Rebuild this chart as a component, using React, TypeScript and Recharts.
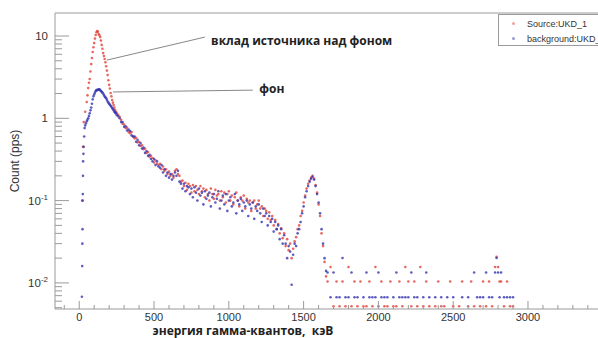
import React from "react";
import {
  ScatterChart,
  Scatter,
  XAxis,
  YAxis,
  ReferenceLine,
  ReferenceDot,
  Legend,
} from "recharts";

const sourceName = "Source:UKD_1";
const backgroundName = "background:UKD_1";

// [energy keV, count rate pps]
const sourcePeak: [number, number][] = [
  [20, 0.1], [25, 0.45], [30, 0.9], [40, 1.2], [50, 1.58], [55, 1.9], [60, 2.33], [65, 2.7],
  [70, 3.0], [75, 3.7], [80, 4.56], [85, 5.4], [90, 6.4], [95, 7.3], [100, 8.2], [105, 9.3],
  [110, 10.3], [115, 11.1], [120, 11.5], [125, 11.3], [130, 10.6], [135, 10.2], [140, 9.7],
  [145, 8.8], [150, 7.8], [155, 7.0], [160, 6.2], [165, 5.7], [170, 5.25], [175, 4.8],
  [180, 4.3], [185, 3.8], [190, 3.35], [195, 2.9], [200, 2.55], [205, 2.3], [210, 2.03],
  [215, 1.85], [220, 1.67], [225, 1.55], [230, 1.45], [235, 1.35], [240, 1.26], [245, 1.2],
  [250, 1.16],
];

const sourceContinuum: [number, number][] = [
  [260, 1.1], [270, 1.04], [280, 0.96], [290, 0.86], [300, 0.84], [310, 0.76], [320, 0.77],
  [330, 0.68], [340, 0.66], [350, 0.68], [360, 0.6], [370, 0.57], [380, 0.58], [390, 0.51],
  [400, 0.52], [410, 0.46], [420, 0.47], [430, 0.42], [440, 0.43], [450, 0.38], [460, 0.39],
  [470, 0.34], [480, 0.35], [490, 0.33], [500, 0.29], [510, 0.31], [520, 0.28], [530, 0.27],
  [540, 0.28], [550, 0.24], [560, 0.26], [570, 0.23], [580, 0.24], [590, 0.21], [600, 0.225],
  [610, 0.2], [620, 0.21], [630, 0.19], [640, 0.23], [650, 0.24], [660, 0.21], [670, 0.2],
  [680, 0.17], [690, 0.175], [700, 0.15], [710, 0.165], [720, 0.135], [730, 0.16], [740, 0.15],
  [750, 0.125], [760, 0.155], [770, 0.13], [780, 0.15], [790, 0.135], [800, 0.12], [810, 0.15],
  [820, 0.13], [830, 0.14], [840, 0.11], [850, 0.135], [860, 0.12], [870, 0.1], [880, 0.14],
  [890, 0.12], [900, 0.105], [910, 0.135], [920, 0.115], [930, 0.12], [940, 0.1], [950, 0.13],
  [960, 0.11], [970, 0.125], [980, 0.095], [990, 0.12], [1000, 0.13], [1010, 0.1], [1020, 0.115],
  [1030, 0.09], [1040, 0.11], [1050, 0.125], [1060, 0.1], [1070, 0.085], [1080, 0.11],
  [1090, 0.1], [1100, 0.115], [1110, 0.08], [1120, 0.105], [1130, 0.095], [1140, 0.1],
  [1150, 0.075], [1160, 0.095], [1170, 0.1], [1180, 0.08], [1190, 0.09], [1200, 0.1],
  [1210, 0.08], [1220, 0.085], [1230, 0.065], [1240, 0.08], [1250, 0.075], [1260, 0.06],
  [1270, 0.072], [1280, 0.058], [1290, 0.065], [1300, 0.05], [1310, 0.058], [1320, 0.045],
  [1330, 0.052], [1340, 0.04], [1350, 0.046], [1360, 0.035], [1370, 0.04], [1380, 0.028],
  [1390, 0.034], [1400, 0.025], [1410, 0.03], [1420, 0.02], [1430, 0.026], [1440, 0.032],
  [1450, 0.036], [1460, 0.045], [1470, 0.05], [1480, 0.065], [1490, 0.075], [1500, 0.095],
  [1510, 0.115], [1520, 0.14], [1530, 0.16], [1540, 0.175], [1550, 0.19], [1560, 0.2],
  [1570, 0.185], [1580, 0.155], [1590, 0.125], [1600, 0.09], [1610, 0.065], [1620, 0.04],
  [1630, 0.028], [1640, 0.018], [1650, 0.012],
];

const sourceTail: [number, number][] = [
  [1660, 0.0104], [1680, 0.0156], [1700, 0.0052], [1720, 0.0104], [1740, 0.0052], [1760, 0.0104],
  [1780, 0.0052], [1800, 0.0156], [1820, 0.0052], [1840, 0.0104], [1860, 0.0052], [1880, 0.0104],
  [1900, 0.0052], [1920, 0.0052], [1940, 0.0104], [1960, 0.0052], [1980, 0.0156], [2000, 0.0052],
  [2020, 0.0104], [2040, 0.0052], [2060, 0.0052], [2080, 0.0104], [2100, 0.0052], [2120, 0.0052],
  [2140, 0.0104], [2160, 0.0052], [2180, 0.0156], [2200, 0.0104], [2220, 0.0052], [2240, 0.0104],
  [2260, 0.0052], [2280, 0.0156], [2300, 0.0052], [2320, 0.0104], [2340, 0.0052], [2380, 0.0052],
  [2400, 0.0104], [2420, 0.0052], [2440, 0.0052], [2480, 0.0104], [2500, 0.0052], [2540, 0.0052],
  [2560, 0.0104], [2600, 0.0052], [2620, 0.0104], [2640, 0.0052], [2680, 0.0052], [2700, 0.0104],
  [2720, 0.0052], [2740, 0.0104], [2760, 0.0052], [2780, 0.0156], [2790, 0.0208], [2800, 0.0156],
  [2810, 0.0104], [2820, 0.0104], [2840, 0.0052], [2860, 0.0104], [2880, 0.0052], [2900, 0.0052],
];

const backgroundPeak: [number, number][] = [
  [18, 0.0068], [20, 0.016], [21, 0.03], [22, 0.045], [23, 0.1], [24, 0.12], [25, 0.2],
  [26, 0.3], [28, 0.37], [30, 0.45], [33, 0.6], [36, 0.76], [40, 0.82], [45, 0.87], [50, 0.92],
  [55, 0.96], [60, 1.0], [65, 1.07], [70, 1.15], [75, 1.25], [80, 1.35], [85, 1.5], [90, 1.7],
  [95, 1.85], [100, 1.95], [105, 2.05], [110, 2.15], [115, 2.2], [120, 2.2], [125, 2.22],
  [130, 2.25], [135, 2.25], [140, 2.2], [145, 2.15], [150, 2.1], [155, 2.05], [160, 2.0],
  [165, 1.92], [170, 1.85], [175, 1.8], [180, 1.75], [185, 1.68], [190, 1.6], [195, 1.55],
  [200, 1.5], [205, 1.46], [210, 1.42], [215, 1.38], [220, 1.33], [225, 1.3], [230, 1.25],
  [235, 1.2], [240, 1.18], [245, 1.15], [250, 1.1],
];

const backgroundContinuum: [number, number][] = [
  [260, 1.06], [270, 1.0], [280, 0.9], [290, 0.9], [300, 0.79], [310, 0.8], [320, 0.71],
  [330, 0.73], [340, 0.7], [350, 0.62], [360, 0.6], [370, 0.6], [380, 0.52], [390, 0.55],
  [400, 0.47], [410, 0.5], [420, 0.43], [430, 0.44], [440, 0.38], [450, 0.4], [460, 0.35],
  [470, 0.36], [480, 0.32], [490, 0.3], [500, 0.32], [510, 0.27], [520, 0.3], [530, 0.26],
  [540, 0.25], [550, 0.27], [560, 0.22], [570, 0.24], [580, 0.2], [590, 0.22], [600, 0.19],
  [610, 0.21], [620, 0.18], [630, 0.2], [640, 0.22], [650, 0.2], [660, 0.23], [670, 0.17],
  [680, 0.16], [690, 0.14], [700, 0.16], [710, 0.13], [720, 0.15], [730, 0.145], [740, 0.12],
  [750, 0.14], [760, 0.11], [770, 0.145], [780, 0.125], [790, 0.1], [800, 0.14], [810, 0.115],
  [820, 0.125], [830, 0.09], [840, 0.13], [850, 0.105], [860, 0.115], [870, 0.125], [880, 0.085],
  [890, 0.11], [900, 0.12], [910, 0.095], [920, 0.105], [930, 0.13], [940, 0.08], [950, 0.1],
  [960, 0.115], [970, 0.09], [980, 0.12], [990, 0.075], [1000, 0.1], [1010, 0.11], [1020, 0.085],
  [1030, 0.095], [1040, 0.12], [1050, 0.07], [1060, 0.1], [1070, 0.09], [1080, 0.105],
  [1090, 0.075], [1100, 0.095], [1110, 0.085], [1120, 0.1], [1130, 0.065], [1140, 0.09],
  [1150, 0.08], [1160, 0.095], [1170, 0.06], [1180, 0.085], [1190, 0.075], [1200, 0.09],
  [1210, 0.07], [1220, 0.055], [1230, 0.08], [1240, 0.065], [1250, 0.07], [1260, 0.05],
  [1270, 0.065], [1280, 0.055], [1290, 0.06], [1300, 0.042], [1310, 0.055], [1320, 0.045],
  [1330, 0.05], [1340, 0.034], [1350, 0.045], [1360, 0.03], [1370, 0.038], [1380, 0.03],
  [1390, 0.02], [1400, 0.028], [1410, 0.024], [1420, 0.0095], [1430, 0.022], [1440, 0.03],
  [1450, 0.028], [1460, 0.04], [1470, 0.045], [1480, 0.055], [1490, 0.07], [1500, 0.085],
  [1510, 0.11], [1520, 0.13], [1530, 0.15], [1540, 0.17], [1550, 0.185], [1560, 0.195],
  [1570, 0.18], [1580, 0.15], [1590, 0.12], [1600, 0.095], [1610, 0.07], [1620, 0.045],
  [1630, 0.03], [1640, 0.02], [1650, 0.014],
];

const backgroundTail: [number, number][] = [
  [1660, 0.0134], [1680, 0.0067], [1700, 0.0134], [1720, 0.0067], [1740, 0.0067], [1760, 0.0201],
  [1780, 0.0067], [1800, 0.0067], [1820, 0.0134], [1840, 0.0067], [1860, 0.0067], [1900, 0.0067],
  [1920, 0.0134], [1940, 0.0067], [1960, 0.0067], [1980, 0.0067], [2000, 0.0134], [2020, 0.0067],
  [2040, 0.0067], [2060, 0.0067], [2100, 0.0067], [2120, 0.0134], [2140, 0.0067], [2160, 0.0067],
  [2180, 0.0067], [2200, 0.0067], [2220, 0.0134], [2240, 0.0067], [2260, 0.0067], [2300, 0.0067],
  [2320, 0.0134], [2340, 0.0067], [2380, 0.0067], [2420, 0.0067], [2460, 0.0067], [2500, 0.0067],
  [2560, 0.0067], [2600, 0.0067], [2640, 0.0134], [2660, 0.0067], [2680, 0.0067], [2700, 0.0067],
  [2720, 0.0134], [2740, 0.0067], [2760, 0.0067], [2780, 0.0134], [2790, 0.0201], [2800, 0.0134],
  [2810, 0.0067], [2820, 0.0134], [2840, 0.0067], [2860, 0.0067], [2880, 0.0067], [2900, 0.0067],
];

const xTicks = [
  -100, 0, 100, 200, 300, 400, 500, 600, 700, 800, 900, 1000, 1100, 1200, 1300, 1400, 1500, 1600,
  1700, 1800, 1900, 2000, 2100, 2200, 2300, 2400, 2500, 2600, 2700, 2800, 2900, 3000, 3100, 3200,
  3300, 3400,
];
const yTicks = [
  0.005, 0.006, 0.007, 0.008, 0.009, 0.01, 0.02, 0.03, 0.04, 0.05, 0.06, 0.07, 0.08, 0.09, 0.1,
  0.2, 0.3, 0.4, 0.5, 0.6, 0.7, 0.8, 0.9, 1, 2, 3, 4, 5, 6, 7, 8, 9, 10,
];
const xDomain = [-162, 3468];
const yDomain = [0.00482, 19.04];

const RED = "#e2423a";
const BLUE = "#3434b0";
const AXIS = "#9a9a9a";
const FONT = "'Liberation Sans', Arial, sans-serif";
const BOLD_FONT = "'Open Sans', 'DejaVu Sans', sans-serif";

const toPoints = (rows: [number, number][]) =>
  rows.map(([energy, rate]) => ({ energy, rate }));

const sourceData = toPoints([...sourcePeak, ...sourceContinuum, ...sourceTail]);
const backgroundData = toPoints([...backgroundPeak, ...backgroundContinuum, ...backgroundTail]);

const dot = (color: string) => (props: any) =>
  <circle cx={props.cx} cy={props.cy} r={1.3} fill={color} fillOpacity={0.8} />;

const XTick = (props: any) => {
  const { x, y, payload } = props;
  const v = payload.value;
  const major = v % 500 === 0;
  return (
    <g>
      <line x1={x} y1={y} x2={x} y2={y - (major ? 8 : 4)} stroke={AXIS} />
      {major && (
        <text x={x} y={y + 12} textAnchor="middle" fontSize={11} fill="#333" fontFamily={FONT}>
          {v}
        </text>
      )}
    </g>
  );
};

const YTick = (props: any) => {
  const { x, y, payload } = props;
  const lg = Math.log10(payload.value);
  const exp = Math.round(lg);
  const major = Math.abs(lg - exp) < 1e-6;
  return (
    <g>
      <line x1={x} y1={y} x2={x + (major ? 14 : 7)} y2={y} stroke={AXIS} />
      {major && (
        <text x={x - 7} y={y + 4} textAnchor="end" fontSize={11.5} fill="#333" fontFamily={FONT}>
          {exp === 0 ? "1" : "10"}
          {exp < 0 && (
            <tspan dy={-5} fontSize={8}>
              {exp}
            </tspan>
          )}
        </text>
      )}
    </g>
  );
};

const LegendBox = (props: any) => {
  const items = props.payload ?? [];
  return (
    <div
      style={{
        width: 140,
        height: 32,
        border: `1px solid ${AXIS}`,
        background: "#fff",
        fontFamily: FONT,
        fontSize: 9,
        color: "#333",
        boxSizing: "border-box",
        paddingTop: 1,
      }}
    >
      {items.map((item: any) => (
        <div key={item.value} style={{ display: "flex", alignItems: "center", height: 15 }}>
          <span
            style={{
              width: 3,
              height: 3,
              borderRadius: 2,
              background: item.color,
              opacity: 0.5,
              marginLeft: 13,
              marginRight: 12,
            }}
          />
          <span style={{ whiteSpace: "nowrap" }}>{item.value}</span>
        </div>
      ))}
    </div>
  );
};

const App: React.FC = () => (
  <div
    style={{
      position: "absolute",
      left: 0,
      top: 0,
      width: 598,
      height: 338,
      overflow: "hidden",
      background: "#fff",
    }}
  >
    <ScatterChart width={598} height={338} margin={{ top: 13, right: 0, bottom: 0, left: 0 }}>
      <XAxis
        dataKey="energy"
        type="number"
        domain={xDomain}
        allowDataOverflow
        ticks={xTicks}
        interval={0}
        height={29}
        tickSize={0}
        tickMargin={0}
        tickLine={false}
        tick={<XTick />}
        axisLine={{ stroke: AXIS }}
        label={(p: any) => (
          <text
            x={p.viewBox.x + 188}
            y={p.viewBox.y + 26}
            textAnchor="middle"
            fontSize={12}
            fontWeight="bold"
            fill="#222"
            fontFamily={BOLD_FONT}
          >
            энергия гамма-квантов,{"\u00a0\u00a0"}кэВ
          </text>
        )}
      />
      <YAxis
        dataKey="rate"
        type="number"
        scale="log"
        domain={yDomain}
        allowDataOverflow
        ticks={yTicks}
        interval={0}
        width={55}
        tickSize={0}
        tickMargin={0}
        tickLine={false}
        tick={<YTick />}
        axisLine={{ stroke: AXIS }}
        label={(p: any) => (
          <text
            x={15}
            y={p.viewBox.y + p.viewBox.height / 2}
            transform={`rotate(-90 15 ${p.viewBox.y + p.viewBox.height / 2})`}
            textAnchor="middle"
            dominantBaseline="central"
            fontSize={12}
            fill="#333"
            fontFamily={FONT}
          >
            Count (pps)
          </text>
        )}
      />
      <ReferenceLine y={yDomain[1]} stroke={AXIS} />
      <Scatter
        name={sourceName}
        data={sourceData}
        fill={RED}
        shape={dot(RED)}
        isAnimationActive={false}
      />
      <Scatter
        name={backgroundName}
        data={backgroundData}
        fill={BLUE}
        shape={dot(BLUE)}
        isAnimationActive={false}
      />
      <ReferenceLine
        segment={[
          { x: 185, y: 5.1 },
          { x: 840, y: 9.7 },
        ]}
        stroke="#888"
      />
      <ReferenceLine
        segment={[
          { x: 226, y: 2.09 },
          { x: 1160, y: 2.2 },
        ]}
        stroke="#888"
      />
      <ReferenceDot
        x={848}
        y={8.7}
        r={0.01}
        fill="none"
        stroke="none"
        label={{
          value: "вклад источника над фоном",
          position: "right",
          fontSize: 12,
          fontWeight: "bold",
          fill: "#222",
          fontFamily: BOLD_FONT,
        }}
      />
      <ReferenceDot
        x={1170}
        y={2.27}
        r={0.01}
        fill="none"
        stroke="none"
        label={{
          value: "фон",
          position: "right",
          fontSize: 12,
          fontWeight: "bold",
          fill: "#222",
          fontFamily: BOLD_FONT,
        }}
      />
      <Legend
        layout="vertical"
        align="center"
        verticalAlign="middle"
        content={<LegendBox />}
        wrapperStyle={{ position: "absolute", left: 498, top: 14, width: 140, height: 32 }}
      />
    </ScatterChart>
  </div>
);

export default App;
